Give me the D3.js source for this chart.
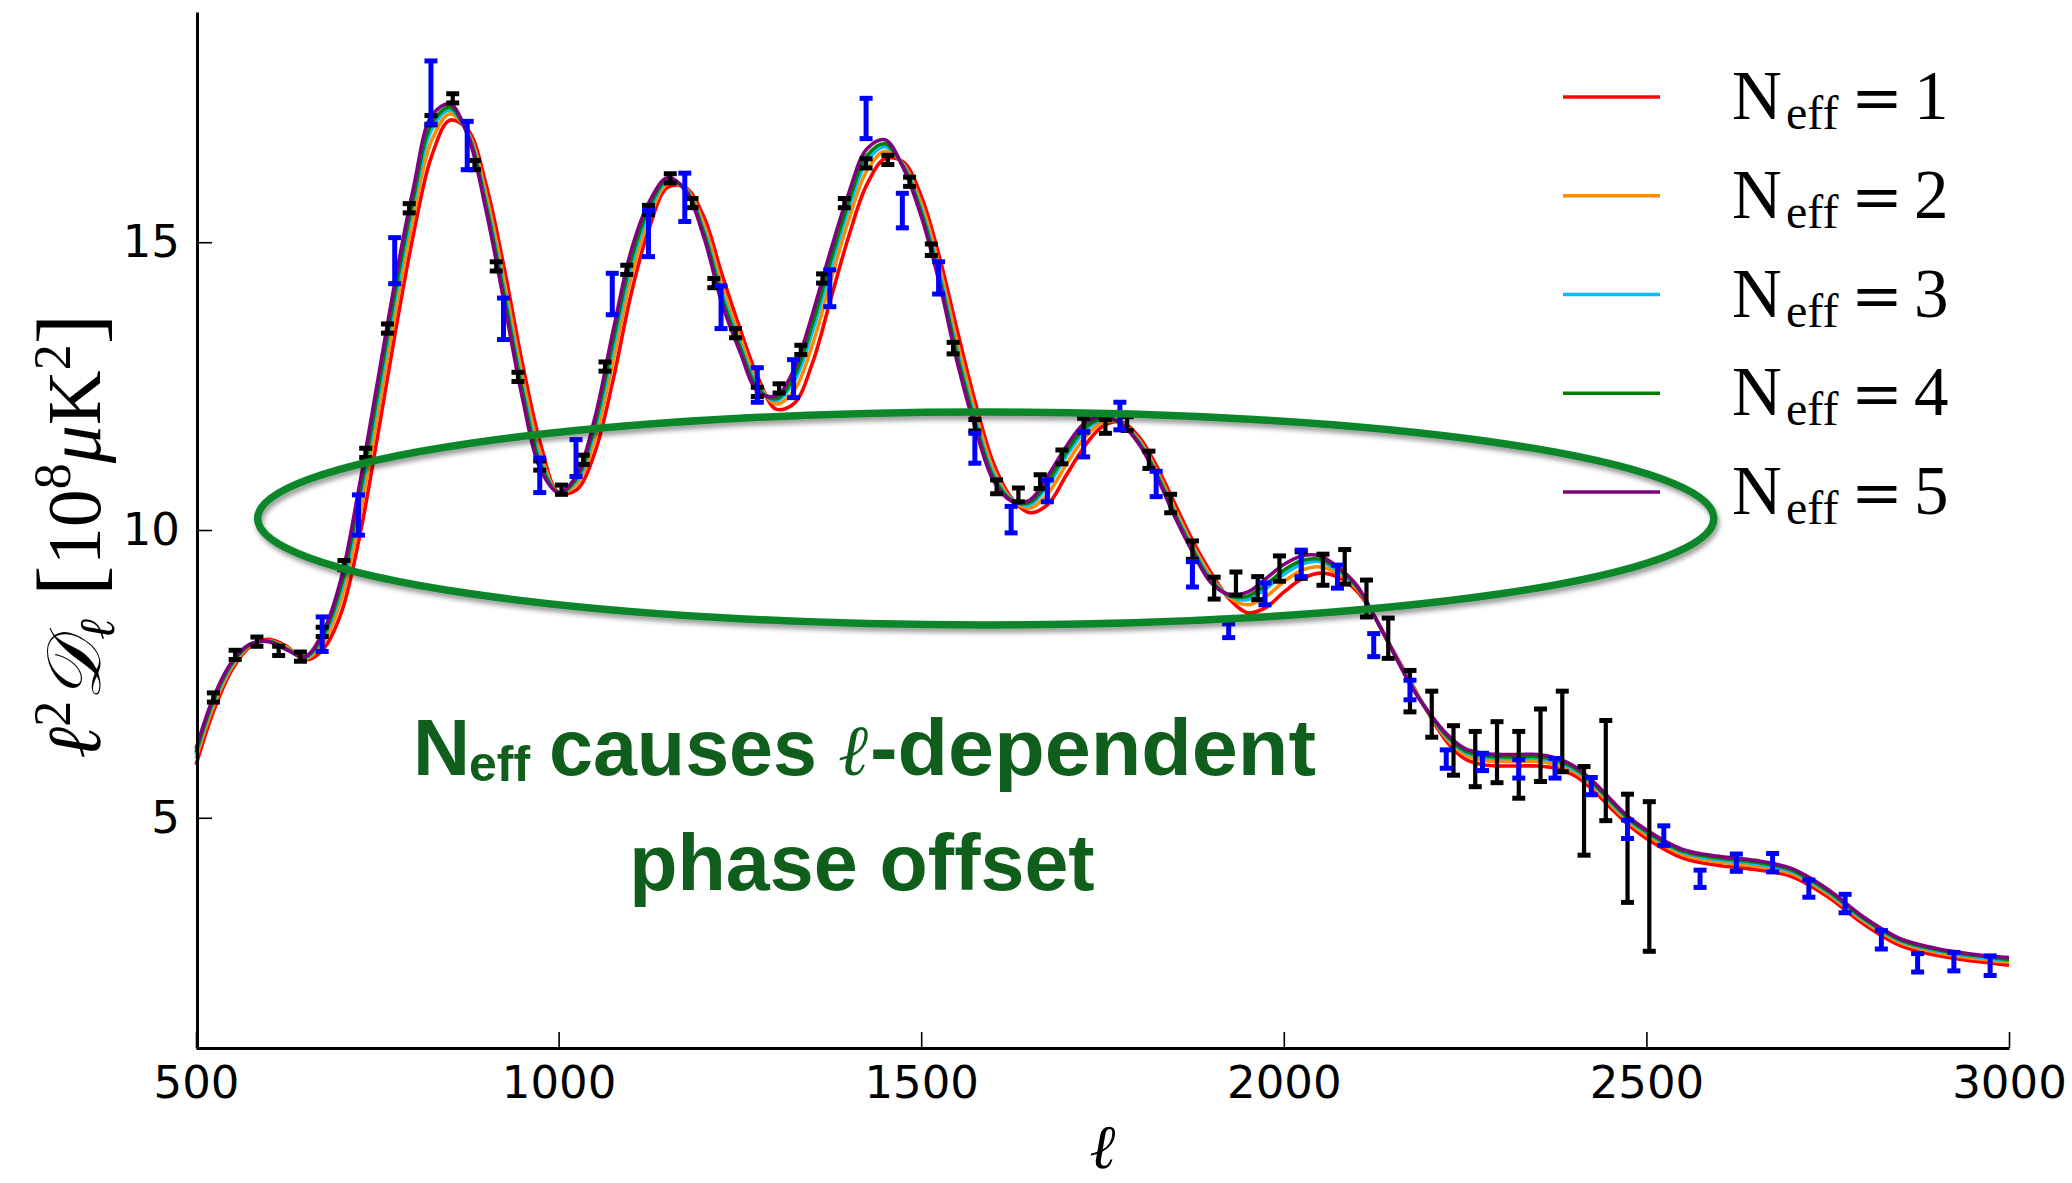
<!DOCTYPE html>
<html>
<head>
<meta charset="utf-8">
<script src="https://cdn.jsdelivr.net/npm/d3@7"></script>
<style>
  html, body { margin: 0; padding: 0; background: #ffffff; }
  svg { display: block; }
</style>
</head>
<body>
<svg id="chart" width="2072" height="1183"></svg>
<script>
// ---- model spectra: multipole grid and D_l curves for each N_eff ----
const ellGrid = [500,525,550,575,600,625,650,675,700,725,750,775,800,825,850,875,900,925,950,975,
  1000,1025,1050,1075,1100,1125,1150,1175,1200,1225,1250,1275,1300,1325,1350,1375,1400,1425,1450,1475,
  1500,1525,1550,1575,1600,1625,1650,1675,1700,1725,1750,1775,1800,1825,1850,1875,1900,1925,1950,1975,
  2000,2025,2050,2075,2100,2125,2150,2175,2200,2225,2250,2275,2300,2325,2350,2375,2400,2425,2450,2475,
  2500,2550,2600,2650,2700,2750,2800,2850,2900,2950,3000];

const neff1 = [5.92,6.88,7.58,7.98,8.10,7.98,7.74,7.92,8.55,9.85,11.60,13.45,15.15,16.50,17.12,16.95,16.00,14.55,12.90,11.50,
  10.65,10.70,11.35,12.60,14.10,15.25,15.95,15.95,15.45,14.45,13.50,12.65,12.10,12.20,12.90,14.00,15.10,16.00,16.45,16.40,
  15.80,14.75,13.45,12.20,11.15,10.55,10.30,10.45,10.95,11.45,11.80,11.88,11.62,11.10,10.45,9.80,9.25,8.80,8.56,8.65,
  8.92,9.15,9.25,9.18,8.95,8.50,7.92,7.36,6.80,6.32,6.02,5.92,5.90,5.90,5.90,5.86,5.74,5.50,5.18,4.88,
  4.64,4.30,4.17,4.10,3.98,3.63,3.15,2.78,2.61,2.51,2.44];

const neff2 = [6.03,6.97,7.63,8.00,8.08,7.96,7.76,8.03,8.78,10.19,11.96,13.79,15.45,16.77,17.23,16.91,15.83,14.32,12.67,11.33,
  10.65,10.80,11.58,12.92,14.39,15.42,16.01,15.93,15.32,14.26,13.35,12.56,12.19,12.43,13.22,14.32,15.39,16.24,16.58,16.36,
  15.67,14.58,13.24,12.03,11.04,10.53,10.38,10.64,11.14,11.60,11.87,11.87,11.57,11.03,10.36,9.72,9.19,8.83,8.70,8.84,
  9.10,9.30,9.36,9.24,8.99,8.50,7.91,7.34,6.81,6.37,6.09,6.00,5.98,5.98,5.98,5.93,5.80,5.56,5.24,4.93,
  4.70,4.36,4.23,4.16,4.03,3.68,3.20,2.83,2.66,2.56,2.49];

const neff3 = [6.10,7.04,7.67,8.01,8.07,7.94,7.78,8.12,8.94,10.44,12.22,14.04,15.67,16.96,17.30,16.89,15.71,14.16,12.51,11.21,
  10.65,10.86,11.74,13.15,14.59,15.54,16.06,15.92,15.22,14.13,13.24,12.49,12.25,12.59,13.45,14.55,15.59,16.40,16.66,16.34,
  15.57,14.46,13.09,11.91,10.96,10.52,10.44,10.78,11.28,11.71,11.92,11.86,11.54,10.98,10.30,9.67,9.14,8.85,8.79,8.98,
  9.23,9.41,9.45,9.29,9.02,8.50,7.91,7.32,6.82,6.40,6.14,6.05,6.03,6.03,6.03,5.98,5.84,5.60,5.28,4.97,
  4.74,4.40,4.27,4.20,4.07,3.71,3.23,2.86,2.69,2.59,2.52];

const neff4 = [6.14,7.07,7.69,8.01,8.07,7.93,7.79,8.16,9.03,10.57,12.36,14.17,15.79,17.06,17.34,16.87,15.64,14.07,12.42,11.14,
  10.65,10.90,11.83,13.28,14.70,15.61,16.09,15.91,15.17,14.05,13.18,12.45,12.28,12.68,13.58,14.68,15.70,16.50,16.71,16.32,
  15.52,14.39,13.01,11.84,10.91,10.51,10.48,10.85,11.35,11.77,11.94,11.86,11.52,10.96,10.27,9.64,9.11,8.86,8.85,9.05,
  9.30,9.47,9.49,9.32,9.03,8.50,7.90,7.31,6.82,6.42,6.16,6.08,6.06,6.06,6.06,6.00,5.87,5.62,5.30,4.99,
  4.76,4.42,4.30,4.23,4.09,3.73,3.25,2.88,2.71,2.61,2.54];

const neff5 = [6.20,7.12,7.72,8.02,8.06,7.92,7.80,8.22,9.15,10.75,12.55,14.35,15.95,17.20,17.40,16.85,15.55,13.95,12.30,11.05,
  10.65,10.95,11.95,13.45,14.85,15.70,16.12,15.90,15.10,13.95,13.10,12.40,12.33,12.80,13.75,14.85,15.85,16.62,16.78,16.30,
  15.45,14.30,12.90,11.75,10.85,10.50,10.52,10.95,11.45,11.85,11.98,11.85,11.50,10.92,10.22,9.60,9.08,8.88,8.92,9.15,
  9.40,9.55,9.55,9.35,9.05,8.50,7.90,7.30,6.83,6.45,6.20,6.12,6.10,6.10,6.10,6.04,5.90,5.65,5.33,5.02,
  4.79,4.45,4.33,4.26,4.12,3.76,3.27,2.90,2.73,2.63,2.57];

// ---- band powers: fine-binned (black) and coarse-binned (blue) ----
const blackEll = [524,554,584,614,644,674,704,734,764,794,824,854,884,914,944,974,1004,1034,1064,1094,
  1124,1154,1184,1214,1244,1274,1304,1334,1364,1394,1424,1454,1484,1514,1544,1574,1604,1634,1664,1694,
  1724,1754,1784,1814,1844,1874,1904,1934,1964,1994,2024,2054,2084,2114,2144,2174,2204,2234,2264,2294,
  2324,2354,2384,2414,2444,2474,2504];
const blackVal = [7.09,7.83,8.06,7.90,7.80,8.23,9.39,11.34,13.50,15.59,17.12,17.50,16.34,14.58,12.66,11.12,10.70,11.22,12.84,14.52,
  15.56,16.11,15.68,14.29,13.42,12.40,12.46,13.13,14.37,15.68,16.37,16.43,16.05,14.87,13.16,11.82,10.75,10.61,10.84,11.27,
  11.82,11.80,11.85,11.22,10.46,9.65,8.99,9.07,8.99,9.33,9.39,9.31,9.36,8.81,8.12,7.20,6.80,6.17,6.02,6.14,
  5.92,6.26,6.50,5.12,5.82,4.47,3.98];
const blackErr = [0.08,0.08,0.08,0.08,0.08,0.08,0.08,0.08,0.08,0.08,0.08,0.08,0.08,0.08,0.08,0.08,0.08,0.08,0.08,0.08,
  0.08,0.08,0.08,0.08,0.08,0.08,0.08,0.08,0.08,0.08,0.08,0.08,0.08,0.10,0.10,0.10,0.12,0.12,0.12,0.12,
  0.12,0.12,0.12,0.15,0.16,0.16,0.19,0.20,0.20,0.22,0.23,0.27,0.30,0.32,0.35,0.36,0.40,0.43,0.48,0.53,
  0.58,0.63,0.70,0.77,0.87,0.94,1.30];

const blueEll = [674,724,774,824,874,924,974,1024,1074,1124,1174,1224,1274,1324,1374,1424,1474,1524,1574,1624,
  1674,1724,1774,1824,1874,1924,1974,2024,2074,2124,2174,2224,2274,2324,2374,2424,2474,2524,2574,2624,
  2674,2724,2774,2824,2874,2924,2974];
const blueVal = [8.19,10.26,14.68,17.60,16.68,13.67,10.95,11.25,14.10,15.15,15.78,13.87,12.52,12.63,14.20,17.15,15.55,14.38,11.42,10.18,
  10.68,11.49,11.98,10.80,9.23,8.25,8.89,9.42,9.19,8.00,7.22,6.02,5.97,5.85,5.86,5.55,4.80,4.69,3.94,4.22,
  4.22,3.77,3.51,2.88,2.48,2.50,2.43];
const blueErr = [0.30,0.35,0.40,0.55,0.42,0.36,0.30,0.32,0.36,0.40,0.42,0.37,0.30,0.33,0.32,0.35,0.30,0.28,0.26,0.23,
  0.19,0.22,0.24,0.22,0.22,0.12,0.19,0.23,0.20,0.20,0.17,0.16,0.15,0.16,0.17,0.15,0.16,0.17,0.15,0.15,
  0.16,0.15,0.16,0.16,0.16,0.16,0.17];

// ---- axes and legend ----
const xTicks = [500, 1000, 1500, 2000, 2500, 3000];
const yTicks = [5, 10, 15];
const neffLabels = ["1", "2", "3", "4", "5"];
const seriesColors = ["#ff0000", "#ff8c00", "#00bfff", "#008000", "#800080"];

[neff1, neff2, neff3, neff4, neff5].forEach((s, i) => {
  if (s.length !== ellGrid.length) throw new Error("curve " + (i + 1) + " has " + s.length + " values");
});
if (blackVal.length !== blackEll.length || blackErr.length !== blackEll.length) throw new Error("black arrays mismatch");
if (blueVal.length !== blueEll.length || blueErr.length !== blueEll.length) throw new Error("blue arrays mismatch");

const svg = d3.select("#chart");
const x = d3.scaleLinear().domain([500, 3000]).range([196, 2009]);
const y = d3.scaleLinear().domain([1, 19]).range([1048, 12]);

// drop shadow for the highlight ellipse
const defs = svg.append("defs");
const shadow = defs.append("filter").attr("id", "soft-shadow")
  .attr("x", "-5%").attr("y", "-20%").attr("width", "110%").attr("height", "140%");
shadow.append("feDropShadow").attr("dx", 2).attr("dy", 4).attr("stdDeviation", 2.5)
  .attr("flood-color", "#000").attr("flood-opacity", 0.4);

// model curves, N_eff = 1 drawn first so N_eff = 5 ends up on top
const series = [neff1, neff2, neff3, neff4, neff5].map((vals, i) => ({ vals, color: seriesColors[i] }));
const line = d3.line()
  .x((d, i) => x(ellGrid[i]))
  .y(d => y(d))
  .curve(d3.curveCatmullRom.alpha(0.5));
svg.append("g").attr("class", "curves")
  .selectAll("path").data(series).join("path")
  .attr("d", s => line(s.vals))
  .attr("fill", "none")
  .attr("stroke", s => s.color)
  .attr("stroke-width", 3.6)
  .attr("stroke-linejoin", "round");

// error bars with caps
function drawErrorBars(cls, ells, vals, errs, color, barW, capW, capT) {
  const data = ells.map((l, i) => ({ l, v: vals[i], e: errs[i] }));
  const g = svg.append("g").attr("class", cls);
  const item = g.selectAll("g").data(data).join("g");
  item.append("line")
    .attr("x1", d => x(d.l)).attr("x2", d => x(d.l))
    .attr("y1", d => y(d.v - d.e)).attr("y2", d => y(d.v + d.e))
    .attr("stroke", color).attr("stroke-width", barW);
  ["lo", "hi"].forEach(side => {
    item.append("line")
      .attr("x1", d => x(d.l) - capW / 2).attr("x2", d => x(d.l) + capW / 2)
      .attr("y1", d => y(side === "lo" ? d.v - d.e : d.v + d.e))
      .attr("y2", d => y(side === "lo" ? d.v - d.e : d.v + d.e))
      .attr("stroke", color).attr("stroke-width", capT);
  });
}
drawErrorBars("black-bins", blackEll, blackVal, blackErr, "#000000", 4.2, 13, 5);
drawErrorBars("blue-bins", blueEll, blueVal, blueErr, "#0000ff", 5, 13, 5);

// axes: only left and bottom spines, ticks pointing inward
const xAxis = d3.axisBottom(x).tickValues(xTicks).tickFormat(d3.format("d"))
  .tickSizeInner(-16).tickSizeOuter(0).tickPadding(18);
const yAxis = d3.axisLeft(y).tickValues(yTicks).tickFormat(d3.format("d"))
  .tickSizeInner(-15).tickSizeOuter(0).tickPadding(17);

const gx = svg.append("g").attr("transform", "translate(0,1048)").call(xAxis);
const gy = svg.append("g").attr("transform", "translate(197,0)").call(yAxis);
[gx, gy].forEach(g => {
  g.attr("font-family", "'DejaVu Sans', sans-serif").attr("font-size", 45);
  g.select(".domain").attr("stroke", "#000").attr("stroke-width", 3);
  g.selectAll(".tick line").attr("stroke", "#000").attr("stroke-width", 1.6);
  g.selectAll(".tick text").attr("fill", "#000");
});

// axis titles
svg.append("text")
  .attr("x", (x.range()[0] + x.range()[1]) / 2).attr("y", 1168)
  .attr("text-anchor", "middle")
  .attr("font-family", "'DejaVu Serif', serif").attr("font-style", "italic").attr("font-size", 62)
  .text("ℓ");

const yl = svg.append("text")
  .attr("transform", "translate(100,536) rotate(-90)")
  .attr("text-anchor", "middle")
  .attr("font-family", "'Liberation Serif', serif").attr("font-size", 76).attr("fill", "#000");
yl.append("tspan").attr("font-family", "'DejaVu Serif', serif").attr("font-style", "italic").text("ℓ");
yl.append("tspan").attr("font-size", 52).attr("dy", -30).text("2");
yl.append("tspan").attr("dy", 30).attr("font-style", "italic").text("𝒟");
yl.append("tspan").attr("font-family", "'DejaVu Serif', serif").attr("font-style", "italic").attr("font-size", 50).attr("dy", 14).text("ℓ");
yl.append("tspan").attr("dy", -14).attr("font-size", 92).text(" [");
yl.append("tspan").text("10");
yl.append("tspan").attr("font-size", 52).attr("dy", -30).text("8");
yl.append("tspan").attr("dy", 30).attr("font-style", "italic").text("μ");
yl.append("tspan").text("K");
yl.append("tspan").attr("font-size", 52).attr("dy", -30).text("2");
yl.append("tspan").attr("dy", 30).attr("font-size", 92).text("]");

// legend
const legend = svg.append("g").attr("class", "legend");
neffLabels.forEach((lab, i) => {
  const ly = 97 + i * 98.75;
  const row = legend.append("g").attr("transform", `translate(0,${ly})`);
  row.append("line").attr("x1", 1563).attr("x2", 1660).attr("y1", 0).attr("y2", 0)
    .attr("stroke", seriesColors[i]).attr("stroke-width", 3.3);
  row.append("text").attr("x", 1732).attr("y", 22)
    .attr("font-family", "'Liberation Serif', serif").attr("font-size", 69).text("N");
  row.append("text").attr("x", 1786).attr("y", 32)
    .attr("font-family", "'Liberation Serif', serif").attr("font-size", 48).text("eff");
  row.append("text").attr("x", 1851).attr("y", 22)
    .attr("font-family", "'DejaVu Serif', serif").attr("font-size", 62).text("=");
  row.append("text").attr("x", 1914).attr("y", 22)
    .attr("font-family", "'Liberation Serif', serif").attr("font-size", 69).text(lab);
});

// highlighted region around the damping-tail peaks
const ellCenter = { l: 1589, v: 10.20 };
const ellHalf = { l: 1004, v: 1.85 };
svg.append("ellipse")
  .attr("cx", x(ellCenter.l)).attr("cy", y(ellCenter.v))
  .attr("rx", x(ellCenter.l + ellHalf.l) - x(ellCenter.l))
  .attr("ry", y(ellCenter.v - ellHalf.v) - y(ellCenter.v))
  .attr("fill", "none").attr("stroke", "#0a862c").attr("stroke-width", 7.5)
  .attr("filter", "url(#soft-shadow)");

// annotation
const noteColor = "#0f5e1b";
const note = svg.append("g").attr("fill", noteColor)
  .attr("font-family", "'Liberation Sans', Arial, sans-serif").attr("font-weight", "bold");
note.append("text").attr("x", 413).attr("y", 775).attr("font-size", 79).text("N");
note.append("text").attr("x", 469).attr("y", 781).attr("font-size", 50).text("eff");
note.append("text").attr("x", 549).attr("y", 775).attr("font-size", 79).text("causes");
note.append("text").attr("x", 838).attr("y", 775).attr("font-size", 72)
  .attr("font-family", "'DejaVu Serif', serif").attr("font-weight", "normal").attr("font-style", "italic").text("ℓ");
note.append("text").attr("x", 870).attr("y", 775).attr("font-size", 79)
  .attr("textLength", 446).attr("lengthAdjust", "spacingAndGlyphs").text("-dependent");
note.append("text").attr("x", 862).attr("y", 890).attr("font-size", 79).attr("text-anchor", "middle").text("phase offset");
</script>
</body>
</html>
